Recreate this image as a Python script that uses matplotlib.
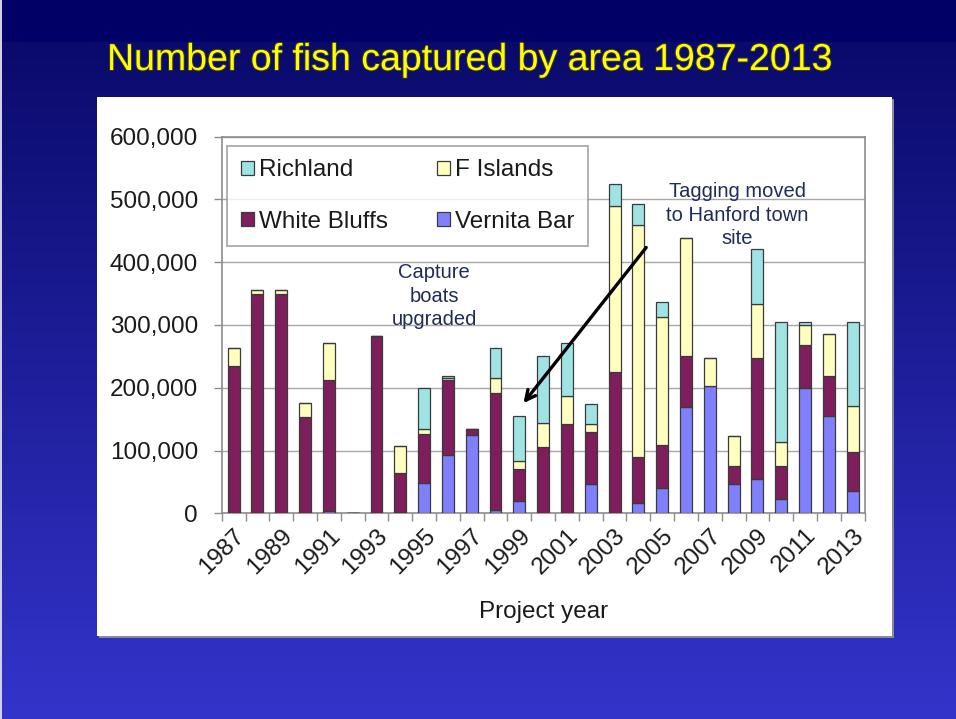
import numpy as np
import matplotlib
matplotlib.use("Agg")
import matplotlib.pyplot as plt
from matplotlib.patches import Rectangle
from matplotlib.ticker import FuncFormatter, FixedLocator
import matplotlib.patheffects as pe

plt.rcParams['font.family'] = ['Liberation Sans', 'DejaVu Sans']

# ---- data -------------------------------------------------------------
years = list(range(1987, 2014))
vernita_bar = [0, 0, 0, 0, 3000, 0, 0, 2000, 49000, 93000, 125000, 5000, 20000,
               0, 0, 46000, 0, 16000, 40000, 170000, 203000, 47000, 55000,
               22000, 200000, 155000, 36000]
white_bluffs = [235000, 350000, 350000, 154000, 210000, 0, 283000, 62000, 78000,
                119000, 10000, 186000, 51000, 106000, 142000, 84000, 225000,
                73000, 69000, 80000, 0, 28000, 192000, 53000, 68000, 64000, 62000]
f_islands = [29000, 6000, 6000, 22000, 59000, 0, 0, 43000, 7000, 3000, 0, 24000,
             13000, 38000, 45000, 12000, 264000, 370000, 204000, 188000, 44000,
             48000, 86000, 38000, 32000, 67000, 73000]
richland = [0, 0, 0, 0, 0, 0, 0, 0, 65000, 3000, 0, 48000, 71000, 106000, 85000,
            32000, 35000, 34000, 24000, 0, 0, 0, 88000, 192000, 5000, 0, 134000]

series_names = ["Vernita Bar", "White Bluffs", "F Islands", "Richland"]
series_colors = ["#8080FF", "#7E1E5C", "#FFFFC0", "#9FE3E3"]

W, H = 956, 719
fig = plt.figure(figsize=(W / 100, H / 100), dpi=100)

# ---- slide background -------------------------------------------------
bg = fig.add_axes([0, 0, 1, 1], zorder=-10)
rows = np.arange(H)
top_c = np.array([10, 10, 108]) / 255
bot_c = np.array([52, 52, 204]) / 255
t = np.clip((rows - 42) / (H - 42), 0, 1)[:, None]
grad = top_c * (1 - t) + bot_c * t
grad[rows < 42] = np.array([0, 0, 102]) / 255
img = np.repeat(grad[:, None, :], 4, axis=1)
bg.imshow(img, aspect='auto', extent=[0, W, H, 0])
bg.set_xlim(0, W)
bg.set_ylim(H, 0)
bg.axis('off')
bg.add_patch(Rectangle((0, 0), 2, H, color='#d0d0ec', lw=0))

# white chart panel with soft shadow
bg.add_patch(Rectangle((99, 99), 795, 539, color='#8a8a9a', lw=0))
bg.add_patch(Rectangle((97, 97), 795, 539, color='white', lw=0))

# title
fig.text(107 / W, 1 - 60 / H, "Number of fish captured by area 1987-2013",
         color='#FFFF00', fontsize=27, ha='left', va='center',
         path_effects=[pe.withStroke(linewidth=1.4, foreground='#3a3a20')])

# ---- chart --------------------------------------------------------------
ax = fig.add_axes([221.7 / W, 1 - 513.3 / H, (864.6 - 221.7) / W, (513.3 - 136.7) / H])
x = np.arange(len(years))
bottom = np.zeros(len(years))
handles = {}
for name, vals, col in zip(series_names,
                           [vernita_bar, white_bluffs, f_islands, richland],
                           series_colors):
    v = np.array(vals, dtype=float)
    b = ax.bar(x, v, 0.5, bottom=bottom, color=col, edgecolor='#3a3a3a',
               linewidth=0.9, zorder=3, label=name)
    handles[name] = b
    bottom += v

ax.set_xlim(-0.5, len(years) - 0.5)
ax.set_ylim(0, 600000)
ax.set_yticks(np.arange(0, 600001, 100000))
ax.yaxis.set_major_formatter(FuncFormatter(lambda v, p: f"{v:,.0f}"))
ax.grid(axis='y', color='#a8a8a8', linewidth=1, zorder=0)
ax.set_axisbelow(True)

ax.xaxis.set_major_locator(FixedLocator(np.arange(-0.5, len(years), 1.0)))
ax.xaxis.set_major_formatter(FuncFormatter(lambda v, p: ""))
label_idx = [i for i, y in enumerate(years) if y % 2 == 1]
ax.xaxis.set_minor_locator(FixedLocator(label_idx))
ax.set_xticklabels([str(years[i]) for i in label_idx], minor=True,
                   rotation=45, ha='right', rotation_mode='anchor', fontsize=17.5)
ax.tick_params(axis='x', which='minor', length=0, pad=8)
ax.tick_params(axis='x', which='major', length=6, color='#8c8c8c', width=1)
ax.tick_params(axis='y', which='major', length=6, color='#8c8c8c', width=1,
               labelsize=17.5, pad=11)
for lab in ax.get_yticklabels() + ax.get_xticklabels(minor=True):
    lab.set_color('#1a1a1a')
for sp in ax.spines.values():
    sp.set_color('#8c8c8c')
    sp.set_linewidth(1.2)

ax.set_xlabel("Project year", fontsize=17.5, color='#1a1a1a', labelpad=16)

order = ["Richland", "White Bluffs", "F Islands", "Vernita Bar"]
leg = ax.legend([handles[n] for n in order], order, ncol=2, loc='upper left',
                bbox_to_anchor=(0.009, 0.975), fontsize=17.5, frameon=True,
                fancybox=False, edgecolor='#8c8c8c', handlelength=0.55,
                handleheight=0.55, handletextpad=0.2, columnspacing=2.0,
                labelspacing=1.2, borderpad=0.55, borderaxespad=0)
leg.get_frame().set_linewidth(1.2)
for txt in leg.get_texts():
    txt.set_color('#1a1a1a')

# annotations
note_col = '#1f2c58'
ax.text(8.42, 346000, "Capture\nboats\nupgraded", ha='center', va='center',
        fontsize=14.5, color=note_col, linespacing=1.3, zorder=5)
ax.text(21.15, 475000, "Tagging moved\nto Hanford town\nsite", ha='center',
        va='center', fontsize=14.5, color=note_col, linespacing=1.3, zorder=5)
ax.annotate("", xy=(12.1, 172000), xytext=(17.4, 427000),
            arrowprops=dict(arrowstyle='->,head_length=0.7,head_width=0.35',
                            color='black', lw=2.4), zorder=6)

fig.savefig("out.png", dpi=100)
